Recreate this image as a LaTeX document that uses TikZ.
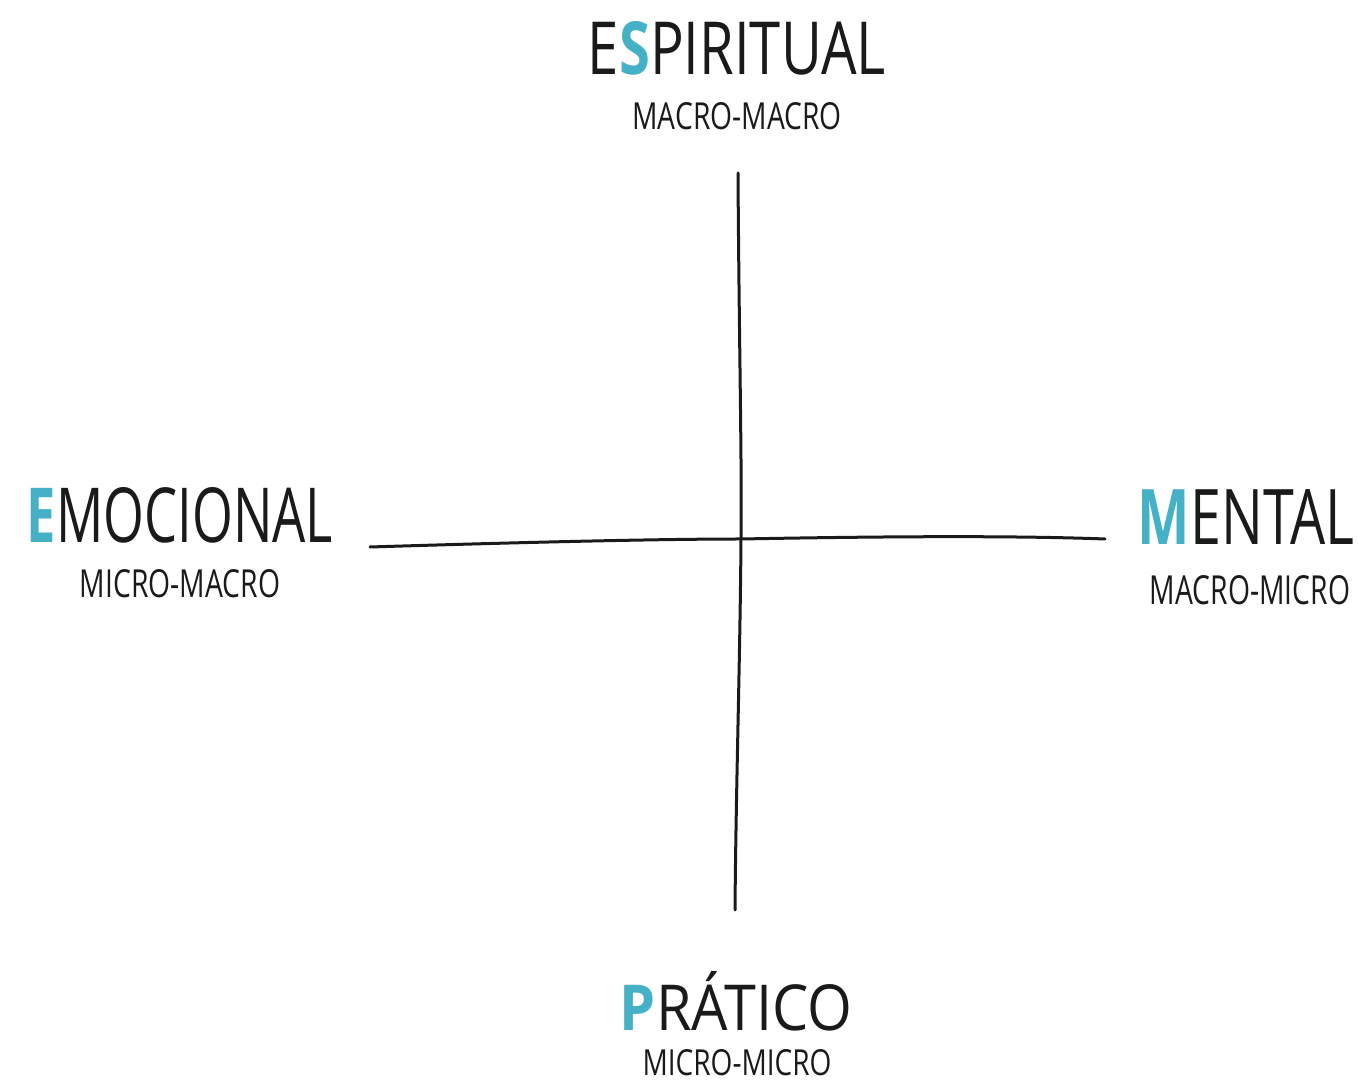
\documentclass[tikz,border=0pt]{standalone}
\usepackage{fontspec}
\usepackage{graphicx}
\setmainfont{Open Sans}
\definecolor{accent}{HTML}{45B1C6}
\definecolor{ink}{HTML}{1A1A1A}
\newcommand{\cw}[1]{\textcolor{accent}{\textbf{#1}}}
\begin{document}
\begin{tikzpicture}[x=1pt,y=1pt,
  title/.style={inner sep=0pt, text=ink},
  sub/.style={inner sep=0pt, text=ink},
  axis/.style={draw=ink, line width=3pt, line cap=round}]
\useasboundingbox[fill=white] (0,0) rectangle (1358,1085);
% axes
\coordinate (vt) at (738,912);
\coordinate (c) at (741,546);
\coordinate (vb) at (735,175);
\coordinate (hl) at (370,538);
\coordinate (hr) at (1105,546);
\draw[axis] (vt) .. controls (739,750) and (742,620) .. (c)
  .. controls (740,420) and (736,300) .. (vb);
\draw[axis] (hl) .. controls (500,542) and (650,546) .. (c)
  .. controls (850,548) and (1000,550) .. (hr);
% titles
\node[title] (esp) at (737,1037) {\resizebox{298pt}{53pt}{E\cw{S}PIRITUAL}};
\node[sub] (espsub) at (737,969) {\resizebox{209pt}{27pt}{MACRO-MACRO}};
\node[title] (emo) at (180,570) {\resizebox{306pt}{55pt}{\cw{E}MOCIONAL}};
\node[sub] (emosub) at (180,501) {\resizebox{200pt}{28pt}{MICRO-MACRO}};
\node[title] (men) at (1246,568) {\resizebox{216pt}{55pt}{\cw{M}ENTAL}};
\node[sub] (mensub) at (1250,495) {\resizebox{200pt}{29pt}{MACRO-MICRO}};
\node[title] (pra) at (736,84) {\resizebox{232pt}{59pt}{\cw{P}RÁTICO}};
\node[sub] (prasub) at (737,22) {\resizebox{189pt}{26pt}{MICRO-MICRO}};
\end{tikzpicture}
\end{document}
